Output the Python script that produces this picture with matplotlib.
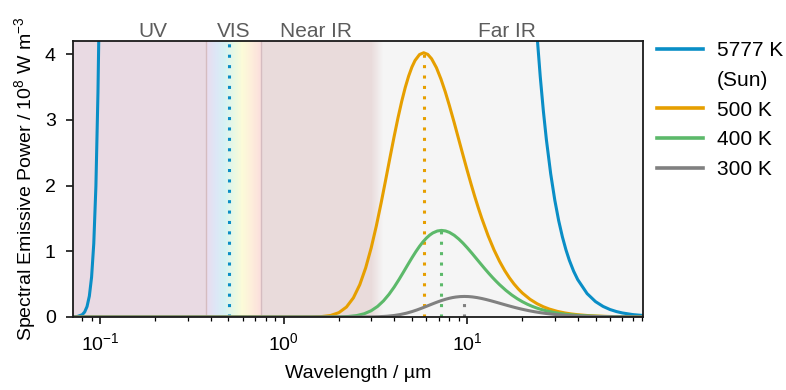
import numpy as np
import matplotlib
matplotlib.use('Agg')
import matplotlib.pyplot as plt
from matplotlib.colors import LinearSegmentedColormap
from matplotlib.lines import Line2D
import matplotlib.transforms as mtransforms

plt.rcParams['font.family'] = ['Liberation Sans', 'DejaVu Sans']
plt.rcParams['font.size'] = 14
plt.rcParams['mathtext.fontset'] = 'custom'
plt.rcParams['mathtext.rm'] = 'Liberation Sans'
plt.rcParams['mathtext.it'] = 'Liberation Sans:italic'
plt.rcParams['mathtext.default'] = 'regular'

# spectral emissive power in 10^8 W m^-3, wavelength in um
sun_wl = [0.07, 0.075, 0.08, 0.0825, 0.085, 0.0875, 0.09, 0.0925, 0.095, 0.0975, 0.099, 0.1,
          0.5015, 23.5, 24, 25, 26, 27, 28.5, 30, 31.5, 33, 34.5, 36, 38, 40, 45, 50, 55, 60,
          65, 70, 80, 95]
sun_e = [0.00079, 0.0060, 0.0345, 0.0758, 0.159, 0.318, 0.608, 1.119, 1.991, 3.423, 4.670, 5.709,
         828000, 4.670, 4.297, 3.658, 3.133, 2.699, 2.179, 1.779, 1.466, 1.220, 1.023, 0.864,
         0.697, 0.569, 0.356, 0.234, 0.1605, 0.1135, 0.0826, 0.0615, 0.0361, 0.0182]

t500_wl = [0.07, 1.2, 1.4, 1.6, 1.8, 2.0, 2.2, 2.4, 2.6, 2.8, 3.0, 3.2, 3.4, 3.6, 3.8, 4.0, 4.2,
           4.4, 4.6, 4.8, 5.0, 5.2, 5.5, 5.796, 6.1, 6.4, 6.8, 7.2, 7.6, 8.0, 8.5, 9.0, 9.5, 10,
           10.5, 11, 11.5, 12, 13, 14, 15, 16, 17, 18, 19, 20, 22, 24, 26, 28, 31, 34, 37, 40,
           45, 50, 55, 60, 70, 80, 94]
t500_e = [0.0, 0.00006, 0.00082, 0.00551, 0.02258, 0.0659, 0.1515, 0.2915, 0.4916, 0.7483, 1.0514,
          1.3864, 1.7383, 2.0905, 2.4303, 2.7463, 3.0322, 3.2819, 3.4941, 3.6668, 3.8033, 3.9036,
          3.9937, 4.021, 3.9959, 3.9293, 3.7937, 3.6197, 3.4247, 3.2172, 2.9560, 2.6997, 2.4574,
          2.2308, 2.0226, 1.8320, 1.6598, 1.5035, 1.2369, 1.0213, 0.8481, 0.7079, 0.5944, 0.5017,
          0.4260, 0.3636, 0.2690, 0.2028, 0.1556, 0.1211, 0.0854, 0.0619, 0.0459, 0.0347, 0.0226,
          0.0154, 0.0108, 0.0078, 0.0044, 0.0026, 0.0014]

t400_wl = [0.07, 1.5, 1.75, 2.0, 2.25, 2.5, 2.75, 3.0, 3.25, 3.5, 3.75, 4.0, 4.25, 4.5, 4.75, 5.0,
           5.25, 5.5, 5.75, 6.0, 6.25, 6.5, 6.875, 7.245, 7.625, 8.0, 8.5, 9.0, 9.5, 10, 10.625,
           11.25, 11.875, 12.5, 13.125, 13.75, 14.375, 15, 16.25, 17.5, 18.75, 20, 21.25, 22.5,
           23.75, 25, 27.5, 30, 32.5, 35, 38.75, 42.5, 46.25, 50, 56.25, 62.5, 68.75, 75, 87.5, 100]
t400_e = [0.0, 0.00002, 0.00027, 0.0018, 0.0074, 0.0216, 0.0496, 0.0955, 0.1611, 0.2452, 0.3445,
          0.4543, 0.5696, 0.6850, 0.7963, 0.8999, 0.9936, 1.0754, 1.1450, 1.2015, 1.2463, 1.2791,
          1.3086, 1.3176, 1.3094, 1.2876, 1.2431, 1.1861, 1.1222, 1.0542, 0.9686, 0.8846, 0.8053,
          0.7310, 0.6628, 0.6003, 0.5439, 0.4927, 0.4053, 0.3347, 0.2779, 0.2320, 0.1948, 0.1644,
          0.1396, 0.1191, 0.0882, 0.0664, 0.0510, 0.0397, 0.0280, 0.0203, 0.0150, 0.0114, 0.0074,
          0.0050, 0.0035, 0.0026, 0.0014, 0.00086]

t300_wl = [0.07, 2.0, 2.333, 2.667, 3.0, 3.333, 3.667, 4.0, 4.333, 4.667, 5.0, 5.333, 5.667, 6.0,
           6.333, 6.667, 7.0, 7.333, 7.667, 8.0, 8.333, 8.667, 9.167, 9.66, 10.167, 10.667, 11.333,
           12.0, 12.667, 13.333, 14.167, 15.0, 15.833, 16.667, 17.5, 18.333, 19.167, 20.0, 21.667,
           23.333, 25.0, 26.667, 28.333, 30.0, 31.667, 33.333, 36.667, 40.0, 43.333, 46.667,
           51.667, 56.667, 61.667, 66.667, 75.0, 83.333, 91.667, 100.0]
t300_e = [0.0, 0.0000045, 0.000064, 0.00043, 0.00176, 0.00513, 0.01178, 0.02267, 0.03822, 0.05819,
          0.08176, 0.10781, 0.13517, 0.16256, 0.18897, 0.21355, 0.23578, 0.25520, 0.27170,
          0.28512, 0.29575, 0.30354, 0.31054, 0.31267, 0.31072, 0.30554, 0.29499, 0.28147,
          0.26630, 0.25017, 0.22986, 0.20993, 0.19109, 0.17347, 0.15727, 0.14245, 0.12906,
          0.11691, 0.09618, 0.07942, 0.06595, 0.05505, 0.04622, 0.03902, 0.03312, 0.02827,
          0.02092, 0.01577, 0.01210, 0.00942, 0.00664, 0.00481, 0.00357, 0.00270, 0.00176,
          0.00120, 0.00084, 0.00061]

# peak (Wien) positions
peak_wl = [0.5015, 5.796, 7.245, 9.66]
peak_e = [828000, 4.021, 1.3176, 0.3127]

labels = ['5777 K', '500 K', '400 K', '300 K']
colors = ['#0a8ec6', '#e69f00', '#5cb96a', '#808080']

# spectral bands
band_names = ['UV', 'VIS', 'Near IR', 'Far IR']
band_label_pos = [0.195, 0.534, 1.5, 16.4]
uv_range = (0.01, 0.38)
vis_range = (0.38, 0.75)
nir_range = (0.75, 3.0)
fir_range = (3.5, 200)

fig = plt.figure(figsize=(7.86, 3.90), dpi=100)
ax = fig.add_axes([0.0929, 0.1872, 0.7255, 0.7077])

ymax = 4.2
ax.axvspan(*uv_range, color='#e9dae3', lw=0, zorder=0)
ax.axvspan(*nir_range, color='#e9dbdb', lw=0, zorder=0)
ax.axvspan(*fir_range, color='#f5f5f5', lw=0, zorder=0)

# rainbow gradient for the visible band
vis_cmap = LinearSegmentedColormap.from_list(
    'vis', ['#eadcee', '#dde6f6', '#d6f1f4', '#e8f8e4', '#fcfbd8', '#fdeedb', '#fbdfdc'])
vx = np.geomspace(vis_range[0], vis_range[1], 80)
ax.pcolormesh(vx, [0, ymax], np.linspace(0, 1, 79)[None, :], cmap=vis_cmap,
              shading='flat', zorder=0, rasterized=True)

# fade from near IR to far IR
fade_cmap = LinearSegmentedColormap.from_list('fade', ['#e9dbdb', '#f5f5f5'])
fx = np.geomspace(nir_range[1], fir_range[0], 30)
ax.pcolormesh(fx, [0, ymax], np.linspace(0, 1, 29)[None, :], cmap=fade_cmap,
              shading='flat', zorder=0, rasterized=True)

for b in (vis_range[0], vis_range[1]):
    ax.axvline(b, color='#d5bcc0', lw=1.0, zorder=0.5)

series = [(sun_wl, sun_e), (t500_wl, t500_e), (t400_wl, t400_e), (t300_wl, t300_e)]
handles = []
for (wl, e), c, lab in zip(series, colors, labels):
    h, = ax.plot(wl, e, color=c, lw=2.2, label=lab, zorder=3, solid_joinstyle='round')
    handles.append(h)

for pw, pe, c in zip(peak_wl, peak_e, colors):
    ax.vlines(pw, 0, pe, colors=c, lw=2.2, linestyles=(0, (1, 2.4)), zorder=2.5)

ax.set_xscale('log')
ax.set_xlim(0.0713, 91)
ax.set_ylim(0, ymax)
ax.set_yticks([0, 1, 2, 3, 4])

ax.set_xlabel('Wavelength / µm', labelpad=8)
ax.set_ylabel('Spectral Emissive Power / 10$^8$ W m$^{-3}$', labelpad=5)

for s in ax.spines.values():
    s.set_linewidth(1.3)
    s.set_color('#1a1a1a')
    s.set_zorder(5)
ax.tick_params(which='major', direction='out', length=5, width=1.1)
ax.tick_params(which='minor', direction='out', length=3, width=0.9)
ax.tick_params(axis='x', which='major', pad=6)
ax.tick_params(axis='y', which='major', pad=7.5)

trans = mtransforms.blended_transform_factory(ax.transData, ax.transAxes)
for name, xpos in zip(band_names, band_label_pos):
    ax.text(xpos, 1.016, name, transform=trans, ha='center', va='baseline',
            color='#5c5c5c', fontsize=15)

# legend: "(Sun)" sits on its own row below "5777 K"
dummy = Line2D([], [], color='none')
leg = ax.legend([handles[0], dummy, handles[1], handles[2], handles[3]],
                ['5777 K', '(Sun)', '500 K', '400 K', '300 K'],
                loc='upper left', bbox_to_anchor=(1.0245, 1.0), frameon=False,
                borderpad=0, borderaxespad=0, handlelength=2.2, handletextpad=0.68,
                labelspacing=0.52, fontsize=15)
for lh in leg.get_lines():
    lh.set_linewidth(2.6)

fig.savefig('out.png', dpi=100)
